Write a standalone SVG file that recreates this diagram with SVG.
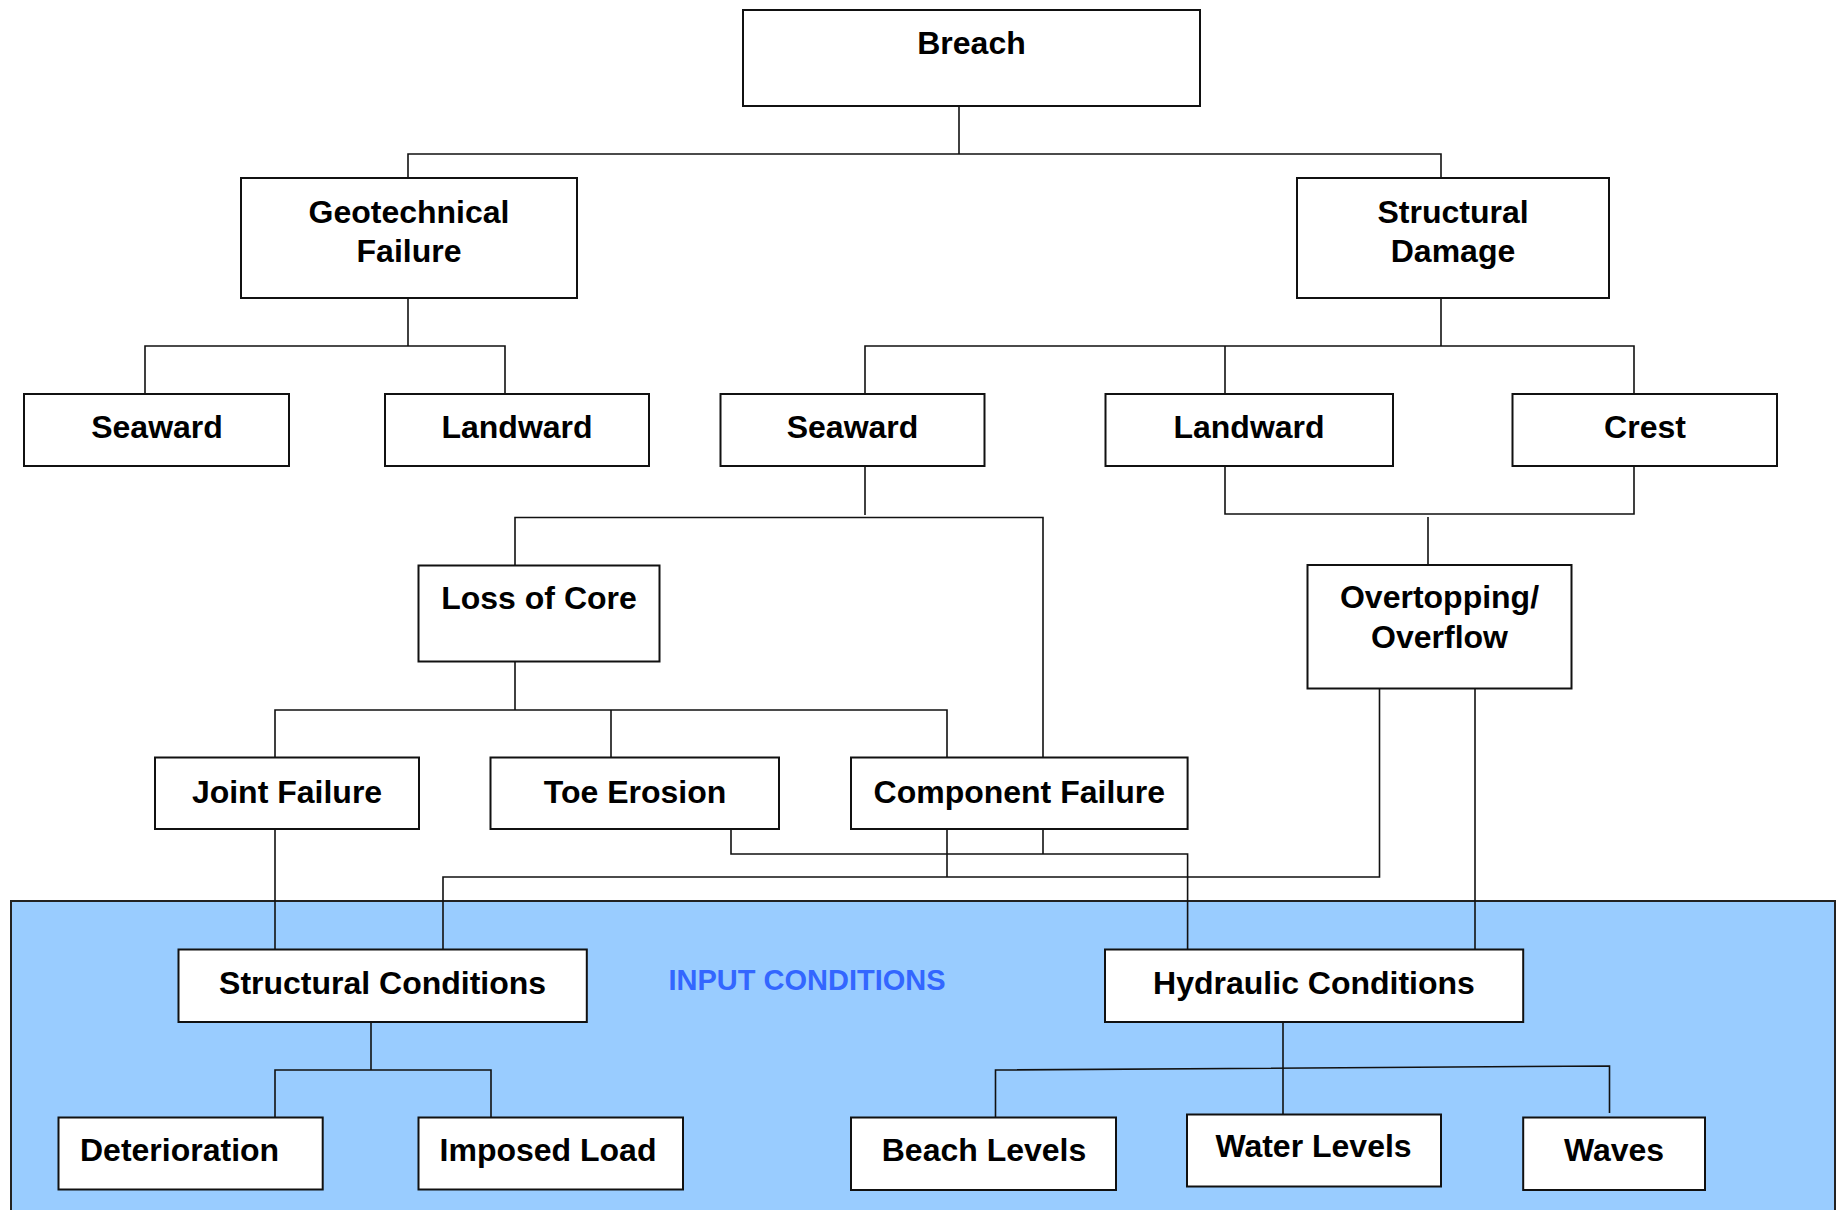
<svg xmlns="http://www.w3.org/2000/svg" width="1840" height="1210" viewBox="0 0 1840 1210">
<style>
.box{fill:#ffffff;stroke:#111111;stroke-width:2}
.lbl{font-family:"Liberation Sans",Arial,sans-serif;font-weight:bold;font-size:32px;fill:#000000;text-anchor:middle}
.conn path{fill:none;stroke:#111111;stroke-width:1.6}
.panel{fill:#99CCFF;stroke:#222222;stroke-width:2}
.panel-title{font-family:"Liberation Sans",Arial,sans-serif;font-weight:bold;font-size:29px;fill:#3366FF}
</style>
<rect width="1840" height="1210" fill="#ffffff"/>
<g id="input-conditions-panel">
<rect class="panel" x="11" y="901" width="1824" height="320"/>
<text class="panel-title" x="668.5" y="990">INPUT CONDITIONS</text>
</g>
<g id="connectors" class="conn">
<path d="M959 106 V154"/>
<path d="M408 178 V154 H1441 V178"/>
<path d="M408 298 V346"/>
<path d="M145 394 V346 H505 V394"/>
<path d="M1441 298 V346"/>
<path d="M865 394 V346 H1634 V394"/>
<path d="M1225 346 V394"/>
<path d="M1225 466 V514 H1634 V466"/>
<path d="M1428 517 V565"/>
<path d="M865 466 V515"/>
<path d="M515 565 V517.5 H1043 V757"/>
<path d="M515 662 V710"/>
<path d="M275 757 V710 H947 V757"/>
<path d="M611 710 V757"/>
<path d="M275 829 V949"/>
<path d="M731 829 V854 H1187.6 V949"/>
<path d="M1043 829 V854"/>
<path d="M947 829 V877"/>
<path d="M1379.5 685 V877 H443 V949"/>
<path d="M1475 685 V949"/>
<path d="M371 1022 V1070"/>
<path d="M275 1117 V1070 H491 V1117"/>
<path d="M1283 1022 V1114"/>
<path d="M995.5 1117 V1070 L1609.5 1066 V1113"/>
</g>
<g id="breach"><rect class="box" x="743" y="10" width="457" height="96"/><text class="lbl" x="971.5" y="54">Breach</text></g>
<g id="geotechnical-failure"><rect class="box" x="241" y="178" width="336" height="120"/><text class="lbl" x="409" y="223">Geotechnical</text><text class="lbl" x="409" y="262">Failure</text></g>
<g id="structural-damage"><rect class="box" x="1297" y="178" width="312" height="120"/><text class="lbl" x="1453" y="223">Structural</text><text class="lbl" x="1453" y="262">Damage</text></g>
<g id="geo-seaward"><rect class="box" x="24" y="394" width="265" height="72"/><text class="lbl" x="157" y="438">Seaward</text></g>
<g id="geo-landward"><rect class="box" x="385" y="394" width="264" height="72"/><text class="lbl" x="517" y="438">Landward</text></g>
<g id="str-seaward"><rect class="box" x="720.5" y="394" width="264" height="72"/><text class="lbl" x="852.5" y="438">Seaward</text></g>
<g id="str-landward"><rect class="box" x="1105.5" y="394" width="287.5" height="72"/><text class="lbl" x="1249" y="438">Landward</text></g>
<g id="crest"><rect class="box" x="1512.5" y="394" width="264.5" height="72"/><text class="lbl" x="1645" y="438">Crest</text></g>
<g id="loss-of-core"><rect class="box" x="418.5" y="565.5" width="241" height="96"/><text class="lbl" x="539" y="609">Loss of Core</text></g>
<g id="overtopping"><rect class="box" x="1307.5" y="565" width="264" height="123.5"/><text class="lbl" x="1439.5" y="608">Overtopping/</text><text class="lbl" x="1439.5" y="648">Overflow</text></g>
<g id="joint-failure"><rect class="box" x="155" y="757.5" width="264" height="71.5"/><text class="lbl" x="287" y="802.5">Joint Failure</text></g>
<g id="toe-erosion"><rect class="box" x="490.5" y="757.5" width="288.5" height="71.5"/><text class="lbl" x="635" y="802.5">Toe Erosion</text></g>
<g id="component-failure"><rect class="box" x="851" y="757.5" width="336.6" height="71.5"/><text class="lbl" x="1019.3" y="802.5">Component Failure</text></g>
<g id="structural-conditions"><rect class="box" x="178.5" y="949.5" width="408.3" height="72.5"/><text class="lbl" x="382.6" y="993.5">Structural Conditions</text></g>
<g id="hydraulic-conditions"><rect class="box" x="1105" y="949.5" width="418.2" height="72.5"/><text class="lbl" x="1314" y="993.5">Hydraulic Conditions</text></g>
<g id="deterioration"><rect class="box" x="58.5" y="1117.5" width="264.2" height="72"/><text class="lbl" x="80" y="1161" style="text-anchor:start">Deterioration</text></g>
<g id="imposed-load"><rect class="box" x="418.5" y="1117.5" width="264.5" height="72"/><text class="lbl" x="548" y="1161">Imposed Load</text></g>
<g id="beach-levels"><rect class="box" x="851" y="1117.5" width="265" height="72.5"/><text class="lbl" x="984" y="1161">Beach Levels</text></g>
<g id="water-levels"><rect class="box" x="1187" y="1114.5" width="254" height="72"/><text class="lbl" x="1313.5" y="1157">Water Levels</text></g>
<g id="waves"><rect class="box" x="1523.2" y="1117.5" width="181.8" height="72.5"/><text class="lbl" x="1614" y="1161">Waves</text></g>
</svg>
